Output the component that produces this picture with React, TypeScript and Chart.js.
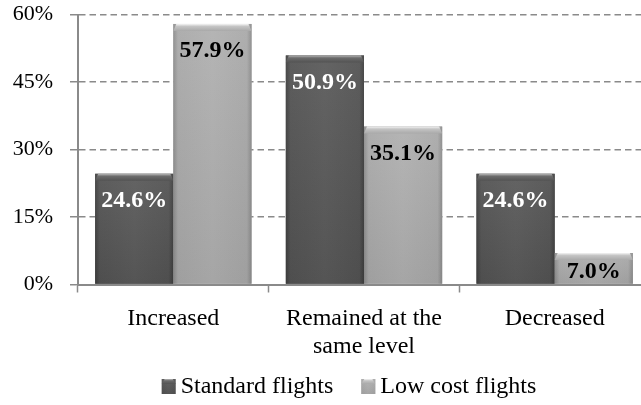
import React, { useEffect, useRef } from "react";
import { Chart, registerables } from "chart.js";

Chart.register(...registerables);

const categories: string[][] = [["Increased"], ["Remained at the", "same level"], ["Decreased"]];
const seriesNames = ["Standard flights", "Low cost flights"];
const standardFlights = [24.6, 50.9, 24.6];
const lowCostFlights = [57.9, 35.1, 7.0];
const yMin = 0;
const yMax = 60;
const yStep = 15;

const SERIF = "'Liberation Serif', 'Times New Roman', serif";

const palettes = [
  { base: "#535353", edge: "#3e3e3e", mid: "#5a5a5a", top: "#b8b8b8", band: "#6c6c6c", label: "#ffffff" },
  { base: "#a9a9a9", edge: "#8c8c8c", mid: "#b0b0b0", top: "#f4f4f4", band: "#c4c4c4", label: "#000000" },
];

function drawBevelBar(ctx: CanvasRenderingContext2D, left: number, top: number, w: number, h: number, p: any) {
  const g = ctx.createLinearGradient(left, 0, left + w, 0);
  g.addColorStop(0, p.edge);
  g.addColorStop(0.06, p.base);
  g.addColorStop(0.5, p.mid);
  g.addColorStop(0.94, p.base);
  g.addColorStop(1, p.edge);
  ctx.fillStyle = g;
  ctx.fillRect(left, top, w, h);
  const gv = ctx.createLinearGradient(0, top, 0, top + h);
  gv.addColorStop(0, "rgba(255,255,255,0.06)");
  gv.addColorStop(1, "rgba(0,0,0,0.06)");
  ctx.fillStyle = gv;
  ctx.fillRect(left, top, w, h);
  const capH = Math.min(7, h / 3);
  const gc = ctx.createLinearGradient(0, top, 0, top + capH);
  gc.addColorStop(0, p.top);
  gc.addColorStop(0.35, p.band);
  gc.addColorStop(1, p.base);
  ctx.fillStyle = gc;
  ctx.beginPath();
  ctx.moveTo(left, top + capH);
  ctx.lineTo(left + 3, top);
  ctx.lineTo(left + w - 3, top);
  ctx.lineTo(left + w, top + capH);
  ctx.closePath();
  ctx.fill();
}

const barStylePlugin = {
  id: "barStyle",
  afterDatasetsDraw(chart: any) {
    const ctx: CanvasRenderingContext2D = chart.ctx;
    ctx.save();
    chart.data.datasets.forEach((ds: any, di: number) => {
      const meta = chart.getDatasetMeta(di);
      const p = palettes[di];
      meta.data.forEach((bar: any, i: number) => {
        const { x, y, base, width } = bar.getProps(["x", "y", "base", "width"], true);
        const left = x - width / 2;
        const h = base - y;
        drawBevelBar(ctx, left, y, width, h, p);
        const v = ds.data[i] as number;
        ctx.fillStyle = p.label;
        ctx.font = `bold 24px ${SERIF}`;
        ctx.textAlign = "center";
        ctx.textBaseline = "middle";
        const off = Math.min(27, h - 12);
        ctx.fillText(v.toFixed(1) + "%", x, y + off);
      });
    });
    ctx.restore();
  },
  afterDraw(chart: any) {
    const ctx: CanvasRenderingContext2D = chart.ctx;
    ctx.save();
    ctx.font = `24px ${SERIF}`;
    ctx.textBaseline = "middle";
    ctx.textAlign = "left";
    const box = 14;
    const gapText = 5;
    const gapItem = 28;
    const widths = seriesNames.map((n) => ctx.measureText(n).width);
    const total = widths.reduce((a, b) => a + b, 0) + seriesNames.length * (box + gapText) + gapItem;
    let x = 349 - total / 2;
    const yc = 387;
    seriesNames.forEach((n, i) => {
      const p = palettes[i];
      drawBevelBar(ctx, x, yc - 8, box, 15, p);
      x += box + gapText;
      ctx.fillStyle = "#000";
      ctx.fillText(n, x, yc);
      x += widths[i] + gapItem;
    });
    ctx.restore();
  },
};

export default function App() {
  const ref = useRef<HTMLCanvasElement | null>(null);
  useEffect(() => {
    if (!ref.current) return;
    const chart = new Chart(ref.current, {
      type: "bar",
      data: {
        labels: categories,
        datasets: [
          { label: seriesNames[0], data: standardFlights, backgroundColor: palettes[0].base, borderWidth: 0 },
          { label: seriesNames[1], data: lowCostFlights, backgroundColor: palettes[1].base, borderWidth: 0 },
        ],
      },
      options: {
        responsive: false,
        animation: false,
        devicePixelRatio: 1,
        layout: { padding: { top: 14.5, right: 0, bottom: 40, left: 0 } },
        datasets: { bar: { categoryPercentage: 0.82, barPercentage: 1.0 } },
        plugins: { legend: { display: false }, tooltip: { enabled: false } },
        scales: {
          x: {
            grid: { drawOnChartArea: false, drawTicks: true, tickLength: 8, color: "#8a8a8a", tickWidth: 1.5, offset: true },
            border: { display: true, color: "#8a8a8a", width: 2 },
            ticks: {
              color: "#000",
              font: { family: SERIF, size: 24, lineHeight: 1.17 },
              padding: 12,
              maxRotation: 0,
              autoSkip: false,
            },
            afterFit: (s: any) => {
              s.height = 80.5;
              s.paddingLeft = 0;
              s.paddingRight = 0;
              s.paddingTop = 0;
              s.paddingBottom = 0;
            },
          },
          y: {
            min: yMin,
            max: yMax,
            grid: {
              color: "#8a8a8a",
              lineWidth: 1.5,
              tickLength: 8,
              tickBorderDash: [],
              tickColor: "#8a8a8a",
              tickWidth: 1.5,
              borderDash: [6.5, 4],
            } as any,
            border: { display: true, color: "#8a8a8a", width: 2, dash: [6.5, 4] },
            ticks: {
              stepSize: yStep,
              color: "#000",
              font: { family: SERIF, size: 22 },
              padding: 17,
              callback: (v: any) => v + "%",
            },
            afterFit: (s: any) => {
              s.width = 78;
              s.paddingTop = 0;
              s.paddingBottom = 0;
              s.paddingLeft = 0;
              s.paddingRight = 0;
            },
          },
        },
      },
      plugins: [barStylePlugin],
    });
    return () => chart.destroy();
  }, []);
  return (
    <div style={{ position: "fixed", left: 0, top: 0, width: 641, height: 405, overflow: "hidden", background: "#fff" }}>
      <canvas ref={ref} width={650} height={405} style={{ width: 650, height: 405, display: "block" }} />
    </div>
  );
}
